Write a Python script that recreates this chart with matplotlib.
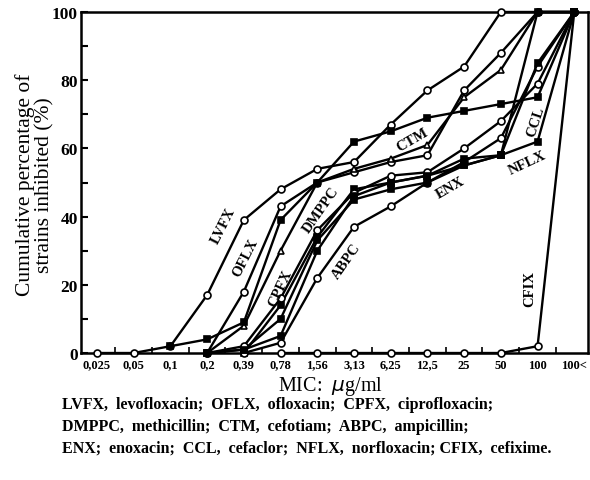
import matplotlib.pyplot as plt
import numpy as np

# MIC categories (x axis)
mic_labels = ["0,025", "0,05", "0,1", "0,2", "0,39", "0,78", "1,56", "3,13",
              "6,25", "12,5", "25", "50", "100", "100<"]
N = np.nan

# cumulative % of strains inhibited
lvfx  = [0, 0, 2, 17, 39, 48, 54, 56, 67, 77, 84, 100, 100, 100]
oflx  = [N, N, N, 0, 18, 43, 50, 53, 56, 58, 77, 88, 100, 100]
cpfx  = [N, N, N, 0, 8, 30, 50, 54, 57, 61, 75, 83, 100, 100]
dmppc = [N, N, N, N, 0, 14, 34, 48, 50, 52, 55, 58, 100, 100]
ctm   = [N, N, 2, 4, 9, 39, 50, 62, 65, 69, 71, 73, 75, 100]
abpc  = [N, N, N, N, 0, 3, 22, 37, 43, 50, 56, 63, 84, 100]
enx   = [N, N, N, 0, 1, 10, 33, 45, 48, 50, 55, 58, 85, 100]
ccl   = [N, N, N, 0, 2, 16, 36, 47, 52, 53, 60, 68, 79, 100]
nflx  = [N, N, N, 0, 1, 5, 30, 46, 50, 52, 57, 58, 62, 100]
cfix  = [N, N, N, N, N, 0, 0, 0, 0, 0, 0, 0, 2, 100]

plt.rcParams['font.family'] = ['Liberation Serif', 'DejaVu Serif']

fig = plt.figure(figsize=(5.9, 4.81), dpi=100)
ax = fig.add_axes([0.137, 0.264, 0.86, 0.709])

x = np.arange(len(mic_labels))

def draw(y, marker, filled):
    y = np.array(y, dtype=float)
    ax.plot(x, y, color='black', lw=1.7, marker=marker, ms=5,
            mfc='black' if filled else 'white', mec='black', mew=1.2,
            clip_on=False, zorder=3)

draw(cfix, 'o', False)
draw(lvfx, 'o', False)
draw(oflx, 'o', False)
draw(cpfx, '^', False)
draw(dmppc, 's', True)
draw(ctm, 's', True)
draw(abpc, 'o', False)
draw(enx, 's', True)
draw(ccl, 'o', False)
draw(nflx, 's', True)

# curve labels
labels = [("LVFX", 3.45, 37.5, 63), ("OFLX", 4.03, 28, 63), ("CPFX", 5.0, 19, 65),
          ("DMPPC", 6.1, 42, 55), ("ABPC", 6.8, 27, 55), ("CTM", 8.6, 62.5, 30),
          ("ENX", 9.62, 48.5, 30), ("NFLX", 11.72, 56, 25), ("CCL", 11.95, 68, 72),
          ("CFIX", 11.8, 19, 90)]
for txt, lx, ly, rot in labels:
    ax.text(lx, ly, txt, rotation=rot, ha='center', va='center', fontsize=10.5,
            fontweight='bold', zorder=4)

ax.set_xlim(-0.44, 13.38)
ax.set_ylim(0, 100)
ax.set_xticks(x)
ax.set_xticklabels(mic_labels, fontsize=9, fontweight='bold')
ax.set_xticks(x[:-1] + 0.5, minor=True)
ax.set_yticks([0, 20, 40, 60, 80, 100])
ax.set_yticklabels(["0", "20", "40", "60", "80", "100"], fontsize=12.5, fontweight='bold')
ax.set_yticks([10, 30, 50, 70, 90], minor=True)
ax.tick_params(axis='x', which='major', length=0, pad=4)
ax.tick_params(axis='x', which='minor', direction='in', length=4, width=1.2)
ax.tick_params(axis='y', which='both', direction='in', length=5, width=1.5, pad=2)
for s in ax.spines.values():
    s.set_linewidth(1.8)

fig.text(0.059, 0.615, "Cumulative percentage of\nstrains inhibited (%)", rotation=90,
         ha='center', va='center', fontsize=15.5, linespacing=0.95)
fig.text(0.56, 0.197, r"MIC:  $\mu$g/ml", ha='center', va='center', fontsize=14.5)

caption = ["LVFX,  levofloxacin;  OFLX,  ofloxacin;  CPFX,  ciprofloxacin;",
           "DMPPC,  methicillin;  CTM,  cefotiam;  ABPC,  ampicillin;",
           "ENX;  enoxacin;  CCL,  cefaclor;  NFLX,  norfloxacin; CFIX,  cefixime."]
for i, line in enumerate(caption):
    fig.text(0.105, 0.158 - i * 0.045, line, ha='left', va='center', fontsize=11.5,
             fontweight='bold')

fig.savefig("out.png", dpi=100)
